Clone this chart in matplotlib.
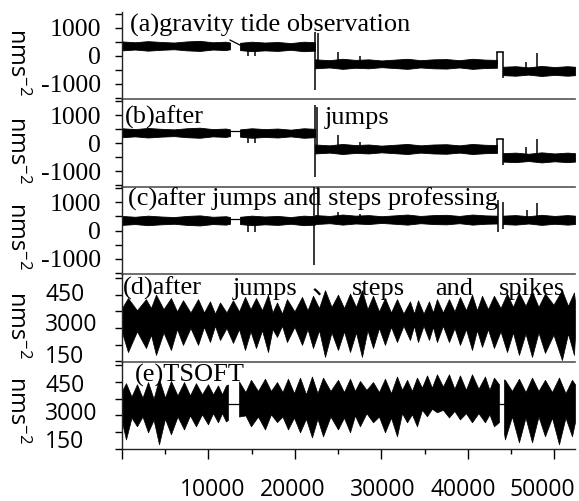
import matplotlib
matplotlib.use('Agg')
import matplotlib.pyplot as plt
from matplotlib.ticker import FixedLocator, FixedFormatter, NullFormatter

plt.rcParams['font.family'] = ['Open Sans', 'DejaVu Sans']
plt.rcParams['mathtext.fontset'] = 'custom'
plt.rcParams['mathtext.rm'] = 'Open Sans'
plt.rcParams['mathtext.it'] = 'Open Sans'

# ---------------- axes / ticks ----------------
x_max = 52370
x_major = [0, 10000, 20000, 30000, 40000, 50000]
x_label_vals = [10000, 20000, 30000, 40000, 50000]
x_label_text = ['10000', '20000', '30000', '40000', '50000']
x_label_shift_px = [4, -2, 1, -5, -12]
x_minor = [5000, 15000, 25000, 35000, 45000]

abc_ylim = (-1560, 1560)
abc_major = [-1000, 0, 1000]
abc_major_labels = ['-1000', '0', '1000']
abc_minor = [-1500, -500, 500, 1500]

de_ylim = (1490, 5420)
de_major = [1500, 3000, 4500]
de_major_labels = ['150', '3000', '450']
de_minor = [2250, 3750, 5250]
d_label_shift_px = [4, 3, 0]
e_label_shift_px = [7, 1, -4]

# ---------------- panels a-c : raw record as a band ----------------
seg1_x = [0, 1500, 3000, 4500, 6000, 7500, 9000, 10500, 12000, 12490]
seg1_hw = [160, 130, 170, 140, 120, 160, 180, 130, 150, 120]
seg2_x = [13640, 15000, 16500, 18000, 19500, 21000, 22310]
seg2_hw = [130, 170, 140, 160, 120, 170, 150]
seg3_x = [22310, 24000, 25500, 27000, 28500, 30000, 31500, 33000, 34500,
          36000, 37500, 39000, 40500, 42000, 43350]
seg3_hw = [160, 130, 180, 140, 160, 120, 150, 180, 130, 160, 170, 130, 180, 150, 140]
seg4_x = [44040, 45500, 47000, 48500, 50000, 51500, 52370]
seg4_hw = [150, 170, 130, 180, 140, 170, 150]

a_levels = [350, 330, -290, -545]
b_levels = [370, 360, -210, -510]
c_levels = [360, 360, 390, 380]

gap_x = [12490, 13640]
a_gap_y = [560, 380]
b_gap_y = [430, 430]
c_gap_y = [410, 410]

a_spike_x = [14600, 15380, 22310, 22660, 24970, 27510, 43350, 44040, 46700, 47970]
a_spike_lo = [-20, -20, -1230, -400, -290, -290, -290, -800, -545, -545]
a_spike_hi = [330, 330, 850, 810, 130, 0, 130, 130, -225, 95]
a_step = [43350, 44040, 130]

b_spike_x = [14600, 15380, 22310, 22570, 24970, 27510, 43350, 44040, 46700, 47970]
b_spike_lo = [0, 0, -1210, -140, -210, -210, -210, -780, -510, -510]
b_spike_hi = [360, 360, 1350, 1280, 290, 40, 140, 140, -140, 140]
b_step = [43350, 44040, 140]

c_spike_x = [14600, 15380, 22200, 22660, 24970, 27510, 43460, 44040, 46820, 47970]
c_spike_lo = [-50, -50, -1228, 360, 360, 360, -50, 50, 380, 380]
c_spike_hi = [360, 360, 1560, 1560, 660, 600, 1090, 1010, 730, 980]

# ---------------- panel d : corrected record (envelopes) ----------------
d_x = [0, 690, 1730, 2770, 3350, 3930, 4800, 5660, 6360, 7050, 7920, 8790, 9480,
       10170, 10750, 11330, 12080, 12830, 13530, 14220, 14860, 15490, 16190, 16880,
       17400, 17920, 18500, 19070, 19940, 20810, 21450, 22080, 22780, 23470, 24220,
       24970, 25670, 26360, 27050, 27740, 28380, 29020, 29710, 30400, 31100, 31790,
       32540, 33290, 33760, 34220, 34860, 35490, 35950, 36410, 37100, 37800, 38440,
       39070, 39770, 40460, 41040, 41620, 42310, 43000, 43760, 44510, 45200, 45890,
       46650, 47400, 48150, 48900, 49880, 50860, 51560, 52250, 52370]
d_lo = [2800, 1920, 2850, 2100, 2700, 1790, 2800, 2010, 2950, 2240, 3000, 2240, 3050,
        2370, 3100, 2460, 3000, 2330, 2950, 2010, 2850, 2100, 2900, 1920, 2950, 2600,
        3100, 2370, 3050, 2240, 2950, 2100, 2900, 1700, 2800, 2010, 2850, 1920, 2800,
        1700, 2900, 2100, 3000, 2240, 3050, 2370, 3100, 2460, 3100, 2370, 3100, 2460,
        3050, 2370, 3100, 2370, 3000, 2240, 2950, 2010, 2900, 2150, 2950, 2100, 2850,
        1920, 2800, 1790, 2750, 1700, 2800, 1880, 2700, 1560, 2750, 1790, 2600]
d_hi = [3900, 4350, 3800, 4300, 3900, 4500, 3850, 4350, 3750, 4250, 3700, 4300, 3700,
        4200, 3650, 4150, 3700, 4250, 3750, 4400, 3850, 4350, 3800, 4500, 3700, 4150,
        3650, 4300, 3750, 4400, 3800, 4450, 3900, 4700, 3950, 4500, 3900, 4550, 3950,
        4700, 3850, 4450, 3750, 4350, 3700, 4300, 3650, 4200, 3650, 4250, 3650, 4200,
        3700, 4300, 3700, 4300, 3750, 4400, 3800, 4500, 3800, 4450, 3850, 4450, 3900,
        4550, 3950, 4600, 4000, 4650, 3950, 4550, 4050, 4700, 4000, 4600, 4200]

# ---------------- panel e : TSOFT (three segments with gaps) ----------------
e1_x = [0, 460, 1100, 1730, 2370, 3010, 3650, 4280, 4970, 5660, 6420, 7170, 7860,
        8550, 9250, 9940, 10520, 11100, 11560, 12020, 12250]
e1_lo = [2700, 1920, 2900, 2510, 2950, 2240, 2800, 1700, 2850, 2150, 2950, 2370, 3000,
         2510, 3050, 2600, 3100, 2690, 3100, 2730, 2800]
e1_hi = [4100, 4450, 3850, 4400, 3800, 4500, 3750, 4650, 3800, 4550, 3900, 4500, 3900,
         4450, 3950, 4400, 3950, 4350, 3950, 4350, 4390]

e2_x = [13530, 14270, 14910, 15720, 16530, 17220, 17920, 18550, 19190, 19880, 20580,
        21270, 21960, 22600, 23240, 24100, 24970, 25660, 26360, 26930, 27510, 28260,
        29020, 29710, 30400, 31100, 31790, 32370, 32950, 33520, 34100, 34680, 35260,
        35830, 36410, 37100, 37800, 38430, 39070, 39760, 40460, 41210, 41960, 42480,
        43000, 43580]
e2_lo = [2950, 3000, 2510, 2950, 2370, 3050, 2700, 2950, 2370, 2900, 2240, 2850, 2010,
         2850, 2060, 2950, 2370, 2900, 2240, 3000, 2510, 3100, 2690, 2950, 2240, 2900,
         2060, 3100, 2690, 3050, 2510, 3250, 2960, 3300, 3140, 3250, 2910, 3200, 2820,
         3100, 2690, 3100, 2690, 3050, 2510, 2700]
e2_hi = [4530, 4050, 4600, 4100, 4650, 4100, 4500, 4050, 4650, 4000, 4700, 3950, 4750,
         4000, 4700, 4100, 4600, 4050, 4650, 4100, 4550, 4150, 4500, 4050, 4650, 4000,
         4750, 4150, 4600, 4100, 4700, 4250, 4800, 4250, 4850, 4300, 4850, 4200, 4800,
         4150, 4850, 4200, 4750, 4150, 4700, 4400]

e3_x = [44160, 44270, 45080, 45890, 46650, 47400, 48150, 48900, 49710, 50520, 51270,
        52020, 52370]
e3_lo = [2200, 1920, 2950, 1790, 2900, 1790, 2950, 2060, 2900, 1700, 2900, 2060, 2700]
e3_hi = [4620, 4600, 4100, 4650, 4050, 4700, 4100, 4600, 4050, 4700, 4000, 4600, 4400]

e_gap1_x = [12250, 13530]
e_gap2_x = [43580, 44160]
e_gap_level = 3500

# ---------------- texts ----------------
a_words = ['(a)gravity tide observation']
a_word_pos = [0.018]
b_words = ['(b)after', 'jumps']
b_word_pos = [0.007, 0.448]
c_words = ['(c)after jumps and steps professing']
c_word_pos = [0.013]
d_words = ['(d)after', 'jumps', '、', 'steps', 'and', 'spikes']
d_word_pos = [0.002, 0.245, 0.418, 0.508, 0.691, 0.832]
e_words = ['(e)TSOFT']
e_word_pos = [0.029]
title_baselines = [0.775, 0.718, 0.79, 0.762, 0.77]
ylab_centers_px = [62, 150, 236, 325, 410]
y_unit = 'nms$^{-2}$'

# ---------------- figure ----------------
W, H = 579, 501
PT = 72 / 100  # points per pixel at dpi 100
fig = plt.figure(figsize=(W / 100, H / 100), dpi=100)
gs = fig.add_gridspec(5, 1, left=122 / W, right=575 / W, top=1 - 12 / H,
                      bottom=1 - 449 / H, hspace=0)
axes = [fig.add_subplot(gs[i, 0]) for i in range(5)]

SERIF = 'Liberation Serif'
SANS = 'Open Sans'
SEP = '#555555'


def band(ax, levels):
    segs = [(seg1_x, seg1_hw), (seg2_x, seg2_hw), (seg3_x, seg3_hw), (seg4_x, seg4_hw)]
    for (xs, hw), lv in zip(segs, levels):
        ax.fill_between(xs, [lv + h for h in hw], [lv - h for h in hw],
                        color='black', lw=0.6, edgecolor='black')


def spikes(ax, xs, lo, hi):
    ax.vlines(xs, lo, hi, colors='black', lw=1.1)


# a
band(axes[0], a_levels)
axes[0].plot(gap_x, a_gap_y, color='black', lw=0.9)
spikes(axes[0], a_spike_x, a_spike_lo, a_spike_hi)
axes[0].plot(a_step[:2], [a_step[2]] * 2, color='black', lw=1.1)
# b
band(axes[1], b_levels)
axes[1].plot(gap_x, b_gap_y, color='black', lw=0.9)
spikes(axes[1], b_spike_x, b_spike_lo, b_spike_hi)
axes[1].plot(b_step[:2], [b_step[2]] * 2, color='black', lw=1.1)
# c
band(axes[2], c_levels)
axes[2].plot(gap_x, c_gap_y, color='black', lw=0.9)
spikes(axes[2], c_spike_x, c_spike_lo, c_spike_hi)
# d
axes[3].fill_between(d_x, d_lo, d_hi, color='black', lw=0.5, edgecolor='black')
# e
for xs, lo, hi in [(e1_x, e1_lo, e1_hi), (e2_x, e2_lo, e2_hi), (e3_x, e3_lo, e3_hi)]:
    axes[4].fill_between(xs, lo, hi, color='black', lw=0.5, edgecolor='black')
axes[4].plot(e_gap1_x, [e_gap_level] * 2, color='black', lw=0.9)
axes[4].plot(e_gap2_x, [e_gap_level] * 2, color='black', lw=0.9)

for i, ax in enumerate(axes):
    ax.set_xlim(0, x_max)
    ax.spines['top'].set_visible(False)
    ax.spines['right'].set_visible(False)
    ax.spines['left'].set_linewidth(1.0)
    ax.spines['left'].set_color('#222222')
    ax.patch.set_alpha(0)
    if i < 3:
        ax.set_ylim(*abc_ylim)
        ax.yaxis.set_major_locator(FixedLocator(abc_major))
        ax.yaxis.set_major_formatter(FixedFormatter(abc_major_labels))
        ax.yaxis.set_minor_locator(FixedLocator(abc_minor))
        ax.tick_params(axis='y', which='both', direction='out', length=7 * PT,
                       width=1, pad=14 * PT, labelsize=18.5,
                       labelfontfamily=SERIF)
    else:
        ax.set_ylim(*de_ylim)
        ax.yaxis.set_major_locator(FixedLocator(de_major))
        ax.yaxis.set_major_formatter(NullFormatter())
        ax.yaxis.set_minor_locator(FixedLocator(de_minor))
        ax.tick_params(axis='y', which='both', direction='out', length=7 * PT,
                       width=1)
        shifts = d_label_shift_px if i == 3 else e_label_shift_px
        for yv, txt, dy in zip(de_major, de_major_labels, shifts):
            ax.annotate(txt, xy=(0, yv), xycoords=('axes fraction', 'data'),
                        xytext=(-77, dy), textcoords='offset pixels',
                        ha='left', va='center', fontsize=16.5, family=SANS,
                        annotation_clip=False)
    if i < 4:
        ax.spines['bottom'].set_color(SEP)
        ax.spines['bottom'].set_linewidth(1.2)
        ax.tick_params(axis='x', which='both', bottom=False, labelbottom=False)
    else:
        ax.spines['bottom'].set_color('#222222')
        ax.spines['bottom'].set_linewidth(1.0)
        ax.xaxis.set_major_locator(FixedLocator(x_major))
        ax.xaxis.set_major_formatter(NullFormatter())
        ax.xaxis.set_minor_locator(FixedLocator(x_minor))
        ax.tick_params(axis='x', which='major', direction='out', length=10 * PT,
                       width=1)
        ax.tick_params(axis='x', which='minor', direction='out', length=5 * PT,
                       width=1)
        for xv, txt, dx in zip(x_label_vals, x_label_text, x_label_shift_px):
            ax.annotate(txt, xy=(xv, 0), xycoords=('data', 'axes fraction'),
                        xytext=(dx, -41), textcoords='offset pixels',
                        ha='center', va='center', fontsize=16.5, family=SANS,
                        annotation_clip=False)

all_words = [a_words, b_words, c_words, d_words, e_words]
all_pos = [a_word_pos, b_word_pos, c_word_pos, d_word_pos, e_word_pos]
for ax, words, poss, yb in zip(axes, all_words, all_pos, title_baselines):
    for w, p in zip(words, poss):
        ax.text(p, yb, w, transform=ax.transAxes, ha='left', va='baseline',
                fontsize=19, family=['Liberation Serif', 'Noto Sans CJK SC'],
                color='black', zorder=10)

for yc in ylab_centers_px:
    fig.text(17 / W, 1 - yc / H, y_unit, rotation=270, ha='center', va='center',
             fontsize=17, family=SANS)

fig.savefig('out.png', dpi=100)
